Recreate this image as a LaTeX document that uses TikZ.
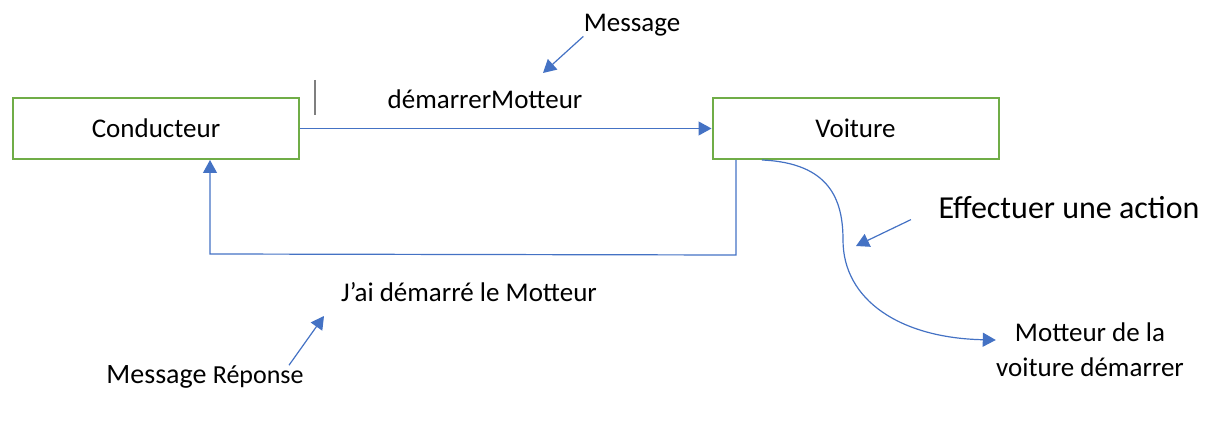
\documentclass[tikz,border=0pt]{standalone}
\usepackage{fontspec}
\setmainfont{Carlito}
\usetikzlibrary{arrows.meta}
\definecolor{boxgreen}{HTML}{70AD47}
\definecolor{linkblue}{HTML}{4472C4}
\definecolor{tickgray}{HTML}{7F7F7F}

\begin{document}
\begin{tikzpicture}[x=0.5pt, y=-0.5pt,
    box/.style={draw=boxgreen, line width=1pt, minimum width=143pt, minimum height=30.5pt, inner sep=0pt, font=\fontsize{13.5}{16}\selectfont},
    lbl/.style={inner sep=0pt, font=\fontsize{13.5}{16}\selectfont},
    msg/.style={draw=linkblue, line width=0.6pt, -{Triangle[length=6.5pt,width=7pt]}}]
    \useasboundingbox (0,0) rectangle (1226,427);

    % objects
    \node[box] (conducteur) at (156,128.5) {Conducteur};
    \node[box] (voiture) at (855.5,128.5) {Voiture};

    % labels
    \node[lbl] (demarrer) at (485,99) {démarrerMotteur};
    \node[lbl] (message) at (632,25) {Message};
    \node[lbl] (reponse) at (469,292) {J’ai démarré le Motteur};
    \node[lbl, font=\fontsize{14}{16}\selectfont] (msgrep) at (205,377) {Message {\fontsize{13}{16}\selectfont Réponse}};
    \node[lbl, font=\fontsize{16}{19}\selectfont] (action) at (1069,208) {Effectuer une action};
    \node[lbl, align=center, font=\fontsize{13.5}{17.5}\selectfont] (moteur) at (1090,350) {Motteur de la\\voiture démarrer};

    % sent message
    \draw[msg] (conducteur.east) -- (voiture.west);
    \draw[tickgray, line width=0.8pt] (315,80) -- (315,115);

    % reply
    \coordinate (retright) at (736,255);
    \coordinate (retleft) at (210,254);
    \draw[msg] (retright |- voiture.south) -- (retright) -- (retleft) -- (retleft |- conducteur.south);

    % action
    \draw[msg] (762,0 |- voiture.south) .. controls (830,163) and (843,200) .. (843,240)
        .. controls (843,300) and (900,338) .. (moteur.west |- 0,340);

    % pointers
    \coordinate (msgtip) at (543,73);
    \coordinate (reptip) at (324,316);
    \coordinate (acttip) at (856,246);
    \draw[msg] (message.south west) -- (msgtip);
    \draw[msg] (289,0 |- msgrep.north) -- (reptip);
    \draw[msg] (911,0 |- action.south) -- (acttip);
\end{tikzpicture}
\end{document}
